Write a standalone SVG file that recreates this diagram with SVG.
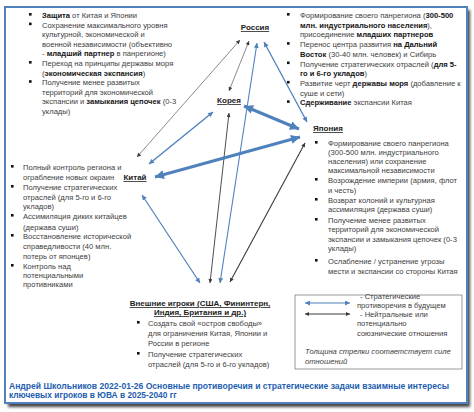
<svg xmlns="http://www.w3.org/2000/svg" width="474" height="412" viewBox="0 0 474 412">
<defs>
<filter id="sh" x="-5%" y="-5%" width="110%" height="110%"><feGaussianBlur stdDeviation="1.5"/></filter>
<marker id="bs" viewBox="0 0 10 10" refX="10" refY="5" markerWidth="6" markerHeight="5" markerUnits="userSpaceOnUse" orient="auto-start-reverse"><path d="M0,0 L10,5 L0,10 z" fill="#4f81bd"/></marker>
<marker id="bb" viewBox="0 0 10 10" refX="10" refY="5" markerWidth="10" markerHeight="9" markerUnits="userSpaceOnUse" orient="auto-start-reverse"><path d="M0,0 L10,5 L0,10 z" fill="#4f81bd"/></marker>
<marker id="ds" viewBox="0 0 10 10" refX="10" refY="5" markerWidth="5" markerHeight="4" markerUnits="userSpaceOnUse" orient="auto-start-reverse"><path d="M0,0 L10,5 L0,10 z" fill="#3a3a3a"/></marker>
</defs>
<style>
text{font-family:"Liberation Sans",Arial,sans-serif;font-size:7.6px;fill:#3d3d3d}
.b{font-weight:bold;fill:#151515}
.lbl{font-weight:bold;font-size:8px;fill:#222;text-decoration:underline}
.bu{fill:#111}
.ft{font-weight:bold;font-size:8.4px;fill:#2360b0}
.it{font-style:italic}
.blue{stroke:#4f81bd;fill:none}
.dark{stroke:#3a3a3a;fill:none}
</style>
<rect x="0" y="0" width="474" height="412" fill="#fff"/>
<rect x="8" y="10" width="462" height="397" fill="#444" filter="url(#sh)"/>
<rect x="5" y="7" width="462" height="396" fill="#fff" stroke="#4f81bd" stroke-width="2"/>

<g id="connectors">
<line class="dark" x1="137" y1="157" x2="240" y2="40" stroke-width="0.6" marker-start="url(#ds)" marker-end="url(#ds)"/>
<line class="dark" x1="229" y1="91" x2="249" y2="41" stroke-width="0.6" marker-start="url(#ds)" marker-end="url(#ds)"/>
<line class="blue" x1="220" y1="283" x2="257" y2="43" stroke-width="1.1" marker-start="url(#bs)" marker-end="url(#bs)"/>
<line class="blue" x1="307" y1="122" x2="264" y2="42" stroke-width="1.3" marker-start="url(#bs)" marker-end="url(#bs)"/>
<line class="blue" x1="149" y1="164" x2="213" y2="112" stroke-width="1.4" marker-start="url(#bs)" marker-end="url(#bs)"/>
<line class="blue" x1="244" y1="106" x2="299" y2="129" stroke-width="3" marker-start="url(#bb)" marker-end="url(#bb)"/>
<line class="dark" x1="210" y1="283" x2="229" y2="113" stroke-width="0.9" marker-start="url(#ds)" marker-end="url(#ds)"/>
<line class="blue" x1="155" y1="177" x2="300" y2="137" stroke-width="3" marker-start="url(#bb)" marker-end="url(#bb)"/>
<line class="dark" x1="230" y1="282" x2="305" y2="143" stroke-width="1.1" marker-start="url(#ds)" marker-end="url(#ds)"/>
<line class="blue" x1="200" y1="283" x2="142" y2="195" stroke-width="1.2" marker-start="url(#bs)" marker-end="url(#bs)"/>
</g>

<g id="korea-text">
<rect class="bu" x="29" y="13" width="2.6" height="2.6"/>
<rect class="bu" x="29" y="22.6" width="2.6" height="2.6"/>
<rect class="bu" x="29" y="61" width="2.6" height="2.6"/>
<rect class="bu" x="29" y="80.2" width="2.6" height="2.6"/>
<text x="42" y="18"><tspan class="b">Защита</tspan> от Китая и Японии</text>
<text x="42" y="27.6">Сохранение максимального уровня</text>
<text x="42" y="37.2">культурной, экономической и</text>
<text x="42" y="46.8">военной независимости (объективно</text>
<text x="42" y="56.4">- <tspan class="b">младший партнер</tspan> в панрегионе)</text>
<text x="42" y="66">Переход на принципы державы моря</text>
<text x="42" y="75.6">(<tspan class="b">экономическая экспансия</tspan>)</text>
<text x="42" y="85.2">Получение менее развитых</text>
<text x="42" y="94.8">территорий для экономической</text>
<text x="42" y="104.4">экспансии и <tspan class="b">замыкания цепочек</tspan> (0-3</text>
<text x="42" y="114">уклады)</text>
</g>

<g id="russia">
<text class="lbl" x="255" y="30" text-anchor="middle">Россия</text>
<rect class="bu" x="287" y="13" width="2.6" height="2.6"/>
<rect class="bu" x="287" y="42.1" width="2.6" height="2.6"/>
<rect class="bu" x="287" y="61.5" width="2.6" height="2.6"/>
<rect class="bu" x="287" y="80.9" width="2.6" height="2.6"/>
<rect class="bu" x="287" y="100.3" width="2.6" height="2.6"/>
<text x="300" y="18">Формирование своего панрегиона (<tspan class="b">300-500</tspan></text>
<text x="300" y="27.7"><tspan class="b">млн. индустриального населения</tspan>),</text>
<text x="300" y="37.4">присоединение <tspan class="b">младших партнеров</tspan></text>
<text x="300" y="47.1">Перенос центра развития <tspan class="b">на Дальний</tspan></text>
<text x="300" y="56.8"><tspan class="b">Восток</tspan> (30-40 млн. человек) и Сибирь</text>
<text x="300" y="66.5">Получение стратегических отраслей (<tspan class="b">для 5-</tspan></text>
<text x="300" y="76.2"><tspan class="b">го и 6-го укладов</tspan>)</text>
<text x="300" y="85.9">Развитие черт <tspan class="b">державы моря</tspan> (добавление к</text>
<text x="300" y="95.6">суше и сети)</text>
<text x="300" y="105.3"><tspan class="b">Сдерживание</tspan> экспансии Китая</text>
</g>

<g id="korea">
<text class="lbl" x="229" y="103" text-anchor="middle">Корея</text>
</g>

<g id="japan">
<text class="lbl" x="313" y="131">Япония</text>
<rect class="bu" x="315" y="141" width="2.6" height="2.6"/>
<rect class="bu" x="315" y="178" width="2.6" height="2.6"/>
<rect class="bu" x="315" y="198" width="2.6" height="2.6"/>
<rect class="bu" x="315" y="218" width="2.6" height="2.6"/>
<rect class="bu" x="315" y="259" width="2.6" height="2.6"/>
<text x="328" y="146">Формирование своего панрегиона</text>
<text x="328" y="155">(300-500 млн. индустриального</text>
<text x="328" y="164">населения) или сохранение</text>
<text x="328" y="173">максимальной независимости</text>
<text x="328" y="183">Возрождение империи (армия, флот</text>
<text x="328" y="193">и честь)</text>
<text x="328" y="203">Возврат колоний и культурная</text>
<text x="328" y="212">ассимиляция (держава суши)</text>
<text x="328" y="223">Получение менее развитых</text>
<text x="328" y="232">территорий для экономической</text>
<text x="328" y="242">экспансии и замыкания цепочек (0-3</text>
<text x="328" y="251">уклады)</text>
<text x="328" y="264">Ослабление / устранение угрозы</text>
<text x="328" y="274">мести и  экспансии со стороны Китая</text>
</g>

<g id="china">
<text class="lbl" x="135" y="180" text-anchor="middle">Китай</text>
<rect class="bu" x="11" y="165" width="2.6" height="2.6"/>
<rect class="bu" x="11" y="185" width="2.6" height="2.6"/>
<rect class="bu" x="11" y="214" width="2.6" height="2.6"/>
<rect class="bu" x="11" y="234" width="2.6" height="2.6"/>
<rect class="bu" x="11" y="264" width="2.6" height="2.6"/>
<text x="23" y="170">Полный контроль региона и</text>
<text x="23" y="180">ограбление новых окраин</text>
<text x="23" y="190">Получение стратегических</text>
<text x="23" y="200">отраслей (для 5-го и 6-го</text>
<text x="23" y="209">укладов)</text>
<text x="23" y="219">Ассимиляция диких китайцев</text>
<text x="23" y="230">(держава суши)</text>
<text x="23" y="239">Восстановление исторической</text>
<text x="23" y="249">справедливости (40 млн.</text>
<text x="23" y="259">потерь от японцев)</text>
<text x="23" y="269">Контроль над</text>
<text x="23" y="278">потенциальными</text>
<text x="23" y="287">противниками</text>
</g>

<g id="external">
<text class="lbl" x="200" y="306" text-anchor="middle">Внешние игроки (США, Фининтерн,</text>
<text class="lbl" x="200" y="315" text-anchor="middle">Индия, Британия и др.)</text>
<rect class="bu" x="137" y="321" width="2.6" height="2.6"/>
<rect class="bu" x="137" y="352" width="2.6" height="2.6"/>
<text x="148" y="326">Создать свой «остров свободы»</text>
<text x="148" y="336">для ограничения Китая, Японии и</text>
<text x="148" y="346">России в регионе</text>
<text x="148" y="357">Получение стратегических</text>
<text x="148" y="367">отраслей (для 5-го и 6-го укладов)</text>
</g>

<g id="legend">
<rect x="295" y="295" width="167" height="74" fill="#fff" stroke="#808080" stroke-width="0.8"/>
<line class="blue" x1="305" y1="303" x2="350" y2="303" stroke-width="1" marker-start="url(#bs)" marker-end="url(#bs)"/>
<line class="dark" x1="305" y1="314" x2="350" y2="314" stroke-width="1" marker-start="url(#ds)" marker-end="url(#ds)"/>
<text x="360" y="299">- Стратегические</text>
<text x="357" y="308">противоречия в будущем</text>
<text x="360" y="317">- Нейтральные или</text>
<text x="357" y="326">потенциально</text>
<text x="357" y="336">союзнические отношения</text>
<text class="it" x="305" y="354">Толщина стрелки соответствует силе</text>
<text class="it" x="305" y="364">отношений</text>
</g>

<g id="footer">
<text class="ft" x="9" y="389" textLength="440" lengthAdjust="spacingAndGlyphs">Андрей Школьников 2022-01-26 Основные противоречия и стратегические задачи  взаимные интересы</text>
<text class="ft" x="9" y="398">ключевых игроков в ЮВА в 2025-2040 гг</text>
</g>
</svg>
